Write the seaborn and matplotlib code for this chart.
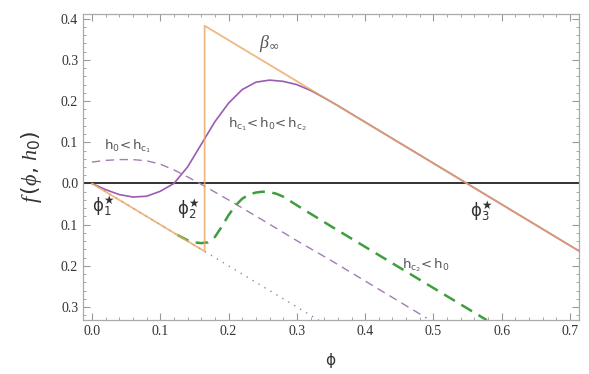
import numpy as np
import pandas as pd
import matplotlib
matplotlib.use("Agg")
import matplotlib.pyplot as plt
import seaborn as sns
from matplotlib.ticker import MultipleLocator, FixedLocator, FixedFormatter

# ---- data ----
# beta_inf envelope (orange): slope line, jump, upper branch
beta_phi = [0.0, 0.165, 0.165, 0.549, 0.713]
beta_f = [0.0, -0.165, 0.383, 0.0, -0.164]

# h_c1 < h0 < h_c2 (solid purple)
mid_phi = [0.0, 0.02, 0.04, 0.06, 0.08, 0.10, 0.12, 0.14, 0.16, 0.18, 0.20,
           0.22, 0.24, 0.26, 0.28, 0.30, 0.32, 0.34, 0.36, 0.40, 0.50, 0.60, 0.713]
mid_f = [0.0, -0.015, -0.027, -0.033, -0.031, -0.019, 0.0, 0.04, 0.095, 0.15, 0.195,
         0.228, 0.246, 0.251, 0.248, 0.240, 0.226, 0.208, 0.189, 0.149, 0.049, -0.051, -0.164]

# h0 < h_c1 (dashed purple)
low_phi = [0.0, 0.02, 0.04, 0.06, 0.08, 0.10, 0.12, 0.14, 0.16, 0.18, 0.20,
           0.25, 0.30, 0.35, 0.40, 0.45, 0.49]
low_f = [0.052, 0.056, 0.058, 0.058, 0.055, 0.047, 0.033, 0.016, -0.002, -0.021, -0.040,
         -0.089, -0.139, -0.187, -0.237, -0.287, -0.327]

# h_c2 < h0 (dashed green)
high_phi = [0.125, 0.14, 0.15, 0.16, 0.17, 0.18, 0.19, 0.20, 0.21, 0.22, 0.23, 0.24,
            0.25, 0.26, 0.27, 0.28, 0.30, 0.35, 0.40, 0.45, 0.50, 0.55, 0.578]
high_f = [-0.125, -0.138, -0.143, -0.145, -0.143, -0.130, -0.105, -0.077, -0.054, -0.037,
          -0.027, -0.022, -0.020, -0.021, -0.025, -0.032, -0.053, -0.104, -0.154, -0.204,
          -0.254, -0.304, -0.332]

# unstable branch (dotted purple)
dot_phi = [0.0, 0.332]
dot_f = [0.0, -0.332]

# fixed points
star_phi = [0.0, 0.124, 0.553]
star_f = [-0.054, -0.061, -0.066]
star_labels = [r"$\mathrm{\phi}_1^{\bigstar}$", r"$\mathrm{\phi}_2^{\bigstar}$",
               r"$\mathrm{\phi}_3^{\bigstar}$"]

xticks = [0.0, 0.1, 0.2, 0.3, 0.4, 0.5, 0.6, 0.7]
xticklabels = ["0.0", "0.1", "0.2", "0.3", "0.4", "0.5", "0.6", "0.7"]
yticks = [0.4, 0.3, 0.2, 0.1, 0.0, -0.1, -0.2, -0.3]
yticklabels = ["0.4", "0.3", "0.2", "0.1", "0.0", "0.1", "0.2", "0.3"]

sns.set_style("ticks")
plt.rcParams["font.family"] = ["Liberation Serif", "DejaVu Serif"]
plt.rcParams["mathtext.fontset"] = "custom"
plt.rcParams["mathtext.rm"] = "DejaVu Sans"
plt.rcParams["mathtext.it"] = "Liberation Serif:italic"
plt.rcParams["mathtext.bf"] = "DejaVu Sans:bold"

fig = plt.figure(figsize=(5.89, 3.74), dpi=100)
ax = fig.add_axes([0.141, 0.144, 0.842, 0.819])

purple = "#9A5CB2"
orange = "#EAA862"
green = "#3E9E3E"

ax.axhline(0.0, color="#333333", lw=1.4, zorder=2)

sns.lineplot(x=dot_phi, y=dot_f, ax=ax, color="#A27CB4", lw=1.0,
             linestyle=(0, (1, 4)), sort=False, estimator=None)
sns.lineplot(x=low_phi, y=low_f, ax=ax, color="#A27CB4", lw=1.0,
             linestyle=(0, (6, 4)), sort=False, estimator=None)
sns.lineplot(x=mid_phi, y=mid_f, ax=ax, color=purple, lw=1.2,
             sort=False, estimator=None)
sns.lineplot(x=high_phi, y=high_f, ax=ax, color=green, lw=1.8,
             linestyle=(0, (5, 3)), sort=False, estimator=None)
sns.lineplot(x=beta_phi, y=beta_f, ax=ax, color=orange, lw=1.3, alpha=0.8,
             sort=False, estimator=None)

txt = "#555555"
ax.text(0.26, 0.341, r"$\beta_\infty$", fontsize=13, color=txt, ha="center", va="center")
ax.text(0.257, 0.145, r"$\mathrm{h_{c_1}\!<h_0\!<h_{c_2}}$", fontsize=9.5, color=txt,
        ha="center", va="center")
ax.text(0.052, 0.090, r"$\mathrm{h_0\!<h_{c_1}}$", fontsize=9.5, color=txt,
        ha="center", va="center")
ax.text(0.489, -0.198, r"$\mathrm{h_{c_2}\!<h_0}$", fontsize=9.5, color=txt,
        ha="center", va="center")
for px, py, lab in zip(star_phi, star_f, star_labels):
    ax.text(px, py, lab, fontsize=12, color="#333333", ha="left", va="center")

ax.set_xlim(-0.013, 0.713)
ax.set_ylim(-0.332, 0.412)
ax.xaxis.set_major_locator(FixedLocator(xticks))
ax.xaxis.set_major_formatter(FixedFormatter(xticklabels))
ax.yaxis.set_major_locator(FixedLocator(yticks))
ax.yaxis.set_major_formatter(FixedFormatter(yticklabels))
ax.xaxis.set_minor_locator(MultipleLocator(0.02))
ax.yaxis.set_minor_locator(MultipleLocator(0.02))
ax.tick_params(which="both", direction="in", top=True, right=True,
               color="#999999", labelsize=10, labelcolor="#333333")
ax.tick_params(which="major", length=5, width=0.8)
ax.tick_params(which="minor", length=2.5, width=0.6)
for s in ax.spines.values():
    s.set_color("#aaaaaa")
    s.set_linewidth(0.9)

ax.set_xlabel(r"$\mathrm{\phi}$", fontsize=11, color="#333333", labelpad=9)
ax.set_ylabel(r"$f\,(\phi,\,h_0)$", fontsize=16, color="#333333", labelpad=12)

fig.savefig("out.png", dpi=100)
